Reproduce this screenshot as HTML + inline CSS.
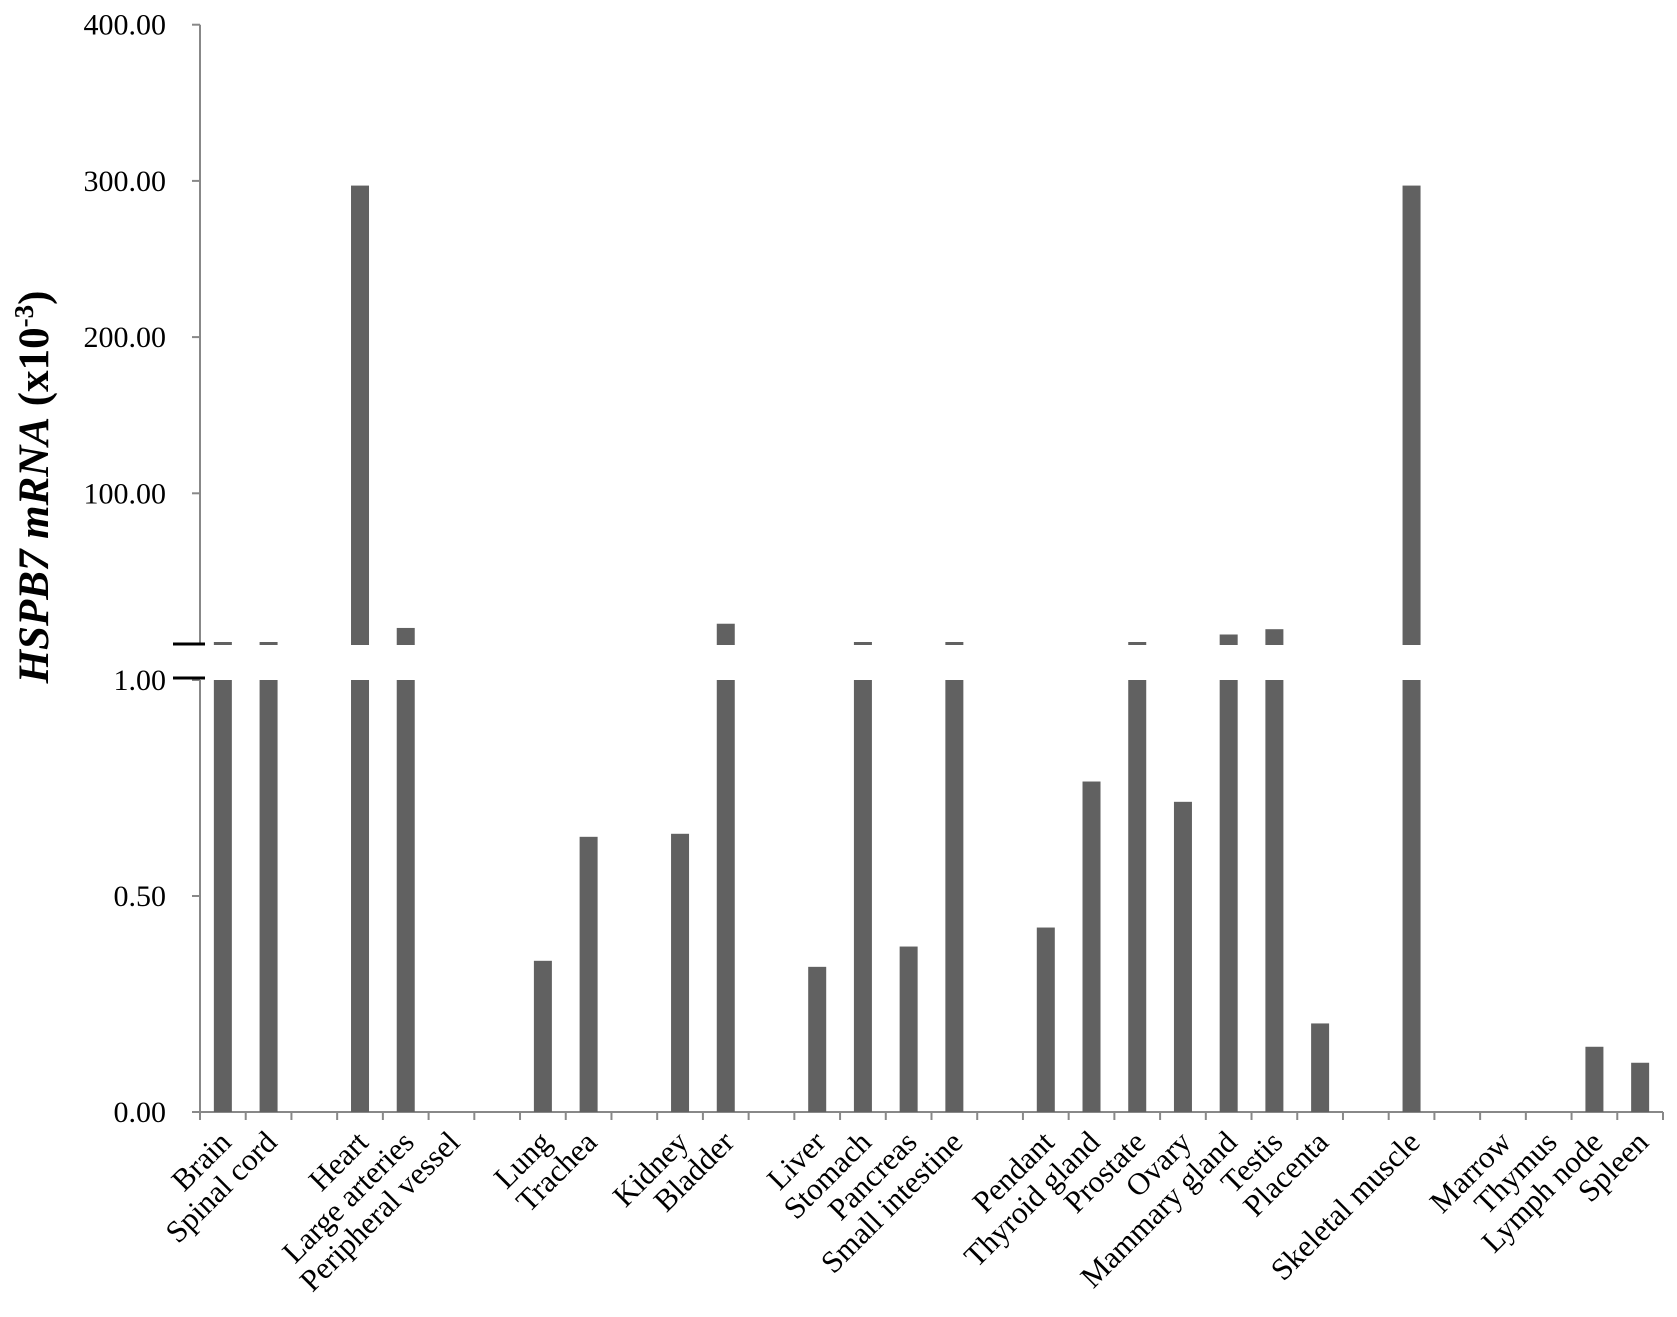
<!DOCTYPE html>
<html><head><meta charset="utf-8"><style>
html,body{margin:0;padding:0;background:#fff;}
svg{display:block;font-family:"Liberation Serif",serif;}
</style></head><body>
<svg id="chart" width="1677" height="1317" viewBox="0 0 1677 1317" xmlns="http://www.w3.org/2000/svg">
<text transform="translate(48,487) rotate(-90)" text-anchor="middle" font-size="43" font-weight="bold"><tspan font-style="italic">HSPB7 mRNA</tspan> (x10<tspan font-size="27" dy="-15">-3</tspan><tspan dy="15">)</tspan></text>
<g id="axes"></g>
<g id="bars"></g>
<g id="labels"></g>
</svg>
<script>
const categories = ["Brain","Spinal cord","","Heart","Large arteries","Peripheral vessel","","Lung","Trachea","","Kidney","Bladder","","Liver","Stomach","Pancreas","Small intestine","","Pendant","Thyroid gland","Prostate","Ovary","Mammary gland","Testis","Placenta","","Skeletal muscle","","Marrow","Thymus","Lymph node","Spleen"];
const values = [2,1.3,0,297,13.8,0,0,0.35,0.637,0,0.644,16.5,0,0.336,2,0.383,4,0,0.427,0.765,1.3,0.718,9.6,13,0.205,0,297,0,0,0,0.151,0.114];
const lowerTicks = [0,0.5,1];
const lowerTickLabels = ["0.00","0.50","1.00"];
const upperTicks = [100,200,300,400];
const upperTickLabels = ["100.00","200.00","300.00","400.00"];

const NS="http://www.w3.org/2000/svg";
const x0=200, x1=1663, slot=(x1-x0)/categories.length;
const base=1112, lowTop=680, upBase=649.5, upPer=156.2/100, breakY=644;
const yLow=v=>base-(base-lowTop)*Math.min(v,1);
const yUp=v=>upBase-upPer*v;
const xC=i=>x0+slot*(i+0.5);
function mk(tag,parent){const e=document.createElementNS(NS,tag);parent.appendChild(e);return e;}
const axes=document.getElementById('axes'),bars=document.getElementById('bars'),labels=document.getElementById('labels');

let l=mk('line',axes);


l.setAttribute('x1',x0);l.setAttribute('x2',x0);l.setAttribute('y1',lowTop);l.setAttribute('y2',base+8);l.setAttribute('stroke','#888');l.setAttribute('stroke-width','2');
l=mk('line',axes);


l.setAttribute('x1',x0);l.setAttribute('x2',x0);l.setAttribute('y1',yUp(400));l.setAttribute('y2',breakY);l.setAttribute('stroke','#888');l.setAttribute('stroke-width','2');
l=mk('line',axes);


l.setAttribute('x1',x0);l.setAttribute('x2',x1);l.setAttribute('y1',base);l.setAttribute('y2',base);l.setAttribute('stroke','#888');l.setAttribute('stroke-width','2');
for(let i=0;i<=categories.length;i++){
  const t=mk('line',axes);
  
  
  const x=x0+slot*i;t.setAttribute('x1',x);t.setAttribute('x2',x);t.setAttribute('y1',base);t.setAttribute('y2',base+8);t.setAttribute('stroke','#888');t.setAttribute('stroke-width','2');
}
function ytick(y,label){
  const t=mk('line',axes);
  
  
  t.setAttribute('x1',x0-8);t.setAttribute('x2',x0);t.setAttribute('y1',y);t.setAttribute('y2',y);t.setAttribute('stroke','#888');t.setAttribute('stroke-width','2');
  const tx=mk('text',axes);
  
  
  tx.setAttribute('x',166);tx.setAttribute('y',y+10);tx.setAttribute('text-anchor','end');tx.setAttribute('font-size','30');tx.textContent=label;
}
lowerTicks.forEach((v,i)=>ytick(yLow(v),lowerTickLabels[i]));
upperTicks.forEach((v,i)=>ytick(yUp(v),upperTickLabels[i]));
[breakY,lowTop-2].forEach(y=>{
  const b=mk('line',axes);
  
  
  b.setAttribute('x1',173);b.setAttribute('x2',205);b.setAttribute('y1',y);b.setAttribute('y2',y);b.setAttribute('stroke','#000');b.setAttribute('stroke-width','3');
});

const bw=18;
categories.forEach((c,i)=>{
  const v=values[i];
  if(v>0){
    const r=mk('rect',bars);
    
    
    const yt=yLow(v);
    r.setAttribute('x',xC(i)-bw/2);r.setAttribute('y',yt);r.setAttribute('width',bw);r.setAttribute('height',base-yt);r.setAttribute('fill','#616161');
  }
  if(v>1){
    const r=mk('rect',bars);
    
    
    const yt=Math.min(yUp(v),breakY-2);
    r.setAttribute('x',xC(i)-bw/2);r.setAttribute('y',yt);r.setAttribute('width',bw);r.setAttribute('height',breakY-yt+1);r.setAttribute('fill','#616161');
  }
  if(c){
    const t=mk('text',labels);
    
    
    const ax=xC(i)+10, ay=base+32;
    t.setAttribute('transform','translate('+ax+','+ay+') rotate(-45)');
    t.setAttribute('text-anchor','end');t.setAttribute('font-size','31');t.textContent=c;
  }
});
</script>
</body></html>
